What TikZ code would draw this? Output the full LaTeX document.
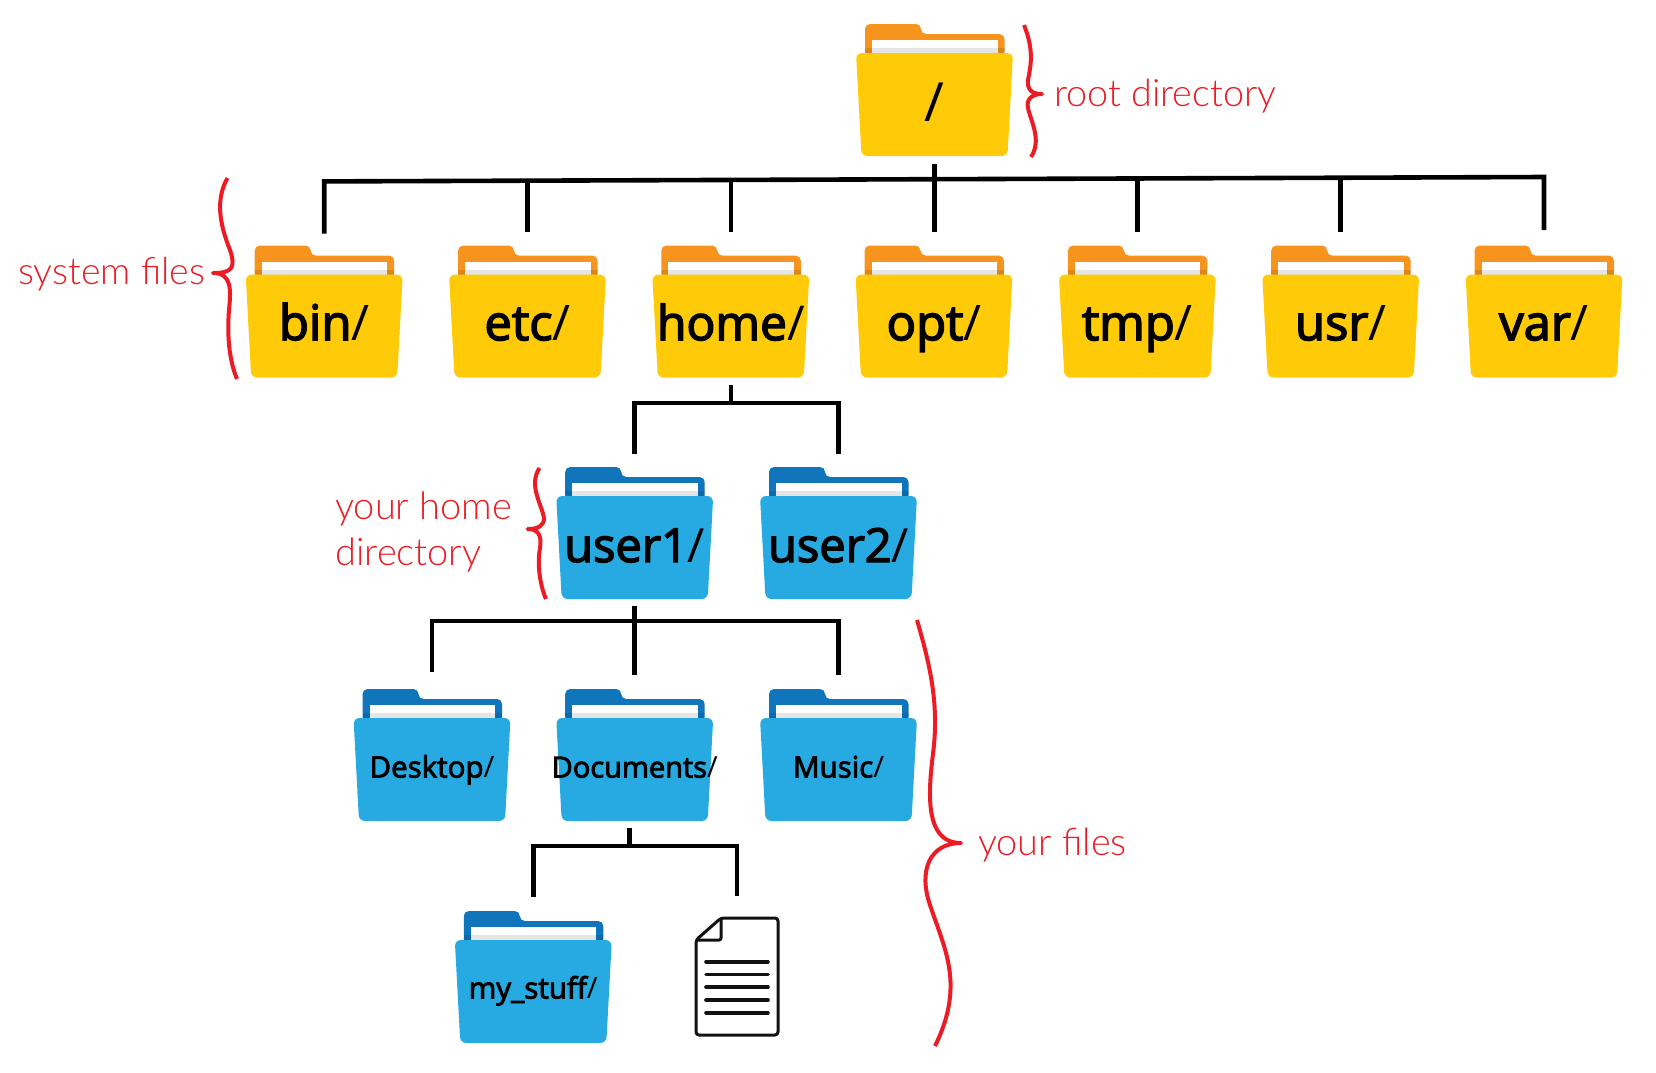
\documentclass[tikz,border=0pt]{standalone}
\usepackage{fontspec}
\newfontfamily\lblfont[FakeBold=3]{Open Sans}
\newfontfamily\slashfont{Open Sans}
\IfFontExistsTF{Lato Light}{\newfontfamily\redfont{Lato Light}}{\newfontfamily\redfont{Open Sans}}
\definecolor{yfront}{HTML}{FFCB08}
\definecolor{yback}{HTML}{F7941D}
\definecolor{bfront}{HTML}{27AAE1}
\definecolor{bback}{HTML}{1175BC}
\definecolor{bracered}{HTML}{ED1C24}
\definecolor{docink}{HTML}{111111}
\tikzset{
  conn/.style={draw=black,line width=4.6pt,line join=miter,line cap=butt},
  bracecurve/.style={draw=bracered,line width=4pt,line cap=butt,line join=round},
  redtext/.style={text=bracered,inner sep=0pt,anchor=base west,align=left},
  biglabel/.style={inner sep=0pt,anchor=base,text=black},
  doclines/.style={draw=docink,line width=3.6pt,line cap=round},
}
% name, cx, top, back, front, size, letters, shift of the baseline
\newcommand{\folderpic}[8]{%
  \fill[#4,rounded corners=5pt] (#2-69.5,#3+4) -- (#2-69.5,#3-29) -- (#2-13.5,#3-29) -- (#2-13.5,#3-19) -- (#2+70,#3-19) -- (#2+70,#3+4) -- cycle;
  \fill[white] (#2-62.5,#3-13) rectangle (#2+63,#3+1);
  \fill[black,opacity=.1] (#2-69.5,#3-5) rectangle (#2+70,#3+1);
  \fill[#5,rounded corners=6pt] (#2-78.5,#3) -- (#2+78.5,#3) -- (#2+73,#3+103) -- (#2-73,#3+103) -- cycle;
  \node[biglabel,font=\fontsize{#6}{#6}\selectfont] (#1) at (#2,#3+#8) {{\lblfont #7}{\slashfont /}};
}
\begin{document}
\begin{tikzpicture}[x=1pt,y=-1pt]
\useasboundingbox (0,0) rectangle (1656,1072);
% folders
\folderpic{root}{934.5}{53}{yback}{yfront}{54}{}{68}
\folderpic{bin}{324.2}{274.6}{yback}{yfront}{49}{bin}{65.5}
\folderpic{etc}{527.5}{274.6}{yback}{yfront}{49}{etc}{65.5}
\folderpic{home}{730.8}{274.6}{yback}{yfront}{48}{home}{65.5}
\folderpic{opt}{934}{274.6}{yback}{yfront}{49}{opt}{65.5}
\folderpic{tmp}{1137.4}{274.6}{yback}{yfront}{49}{tmp}{65.5}
\folderpic{usr}{1340.7}{274.6}{yback}{yfront}{49}{usr}{65.5}
\folderpic{var}{1544}{274.6}{yback}{yfront}{49}{var}{65.5}
\folderpic{user1}{634.7}{496}{bback}{bfront}{47}{user1}{66}
\folderpic{user2}{838.5}{496}{bback}{bfront}{47}{user2}{66}
\folderpic{desktop}{432}{718}{bback}{bfront}{29.5}{Desktop}{59.5}
\folderpic{documents}{634.7}{718}{bback}{bfront}{29}{Documents}{59.5}
\folderpic{music}{838.5}{718}{bback}{bfront}{29.5}{Music}{59.5}
\folderpic{mystuff}{533.3}{940}{bback}{bfront}{29.5}{my\_stuff}{58.5}
% document icon
\draw[draw=docink,line width=3pt,line join=round,rounded corners=3pt] (721,918) -- (778,918) -- (778,1035) -- (696,1035) -- (696,940) -- cycle;
\draw[draw=docink,line width=3pt,line join=round,rounded corners=2pt] (721,918) -- (721,940) -- (696,940);
\coordinate (docfile) at (737,896);
\foreach \ly in {961.7,974.3,987,1000,1012.7} \draw[doclines] (706,\ly) -- (768,\ly);
% connectors: root level
\coordinate (rootS) at (934.6,164);
\coordinate (rootJ) at (934.6,179);
\coordinate (binB) at (324.2,181.4);
\coordinate (binD) at (324.2,233.5);
\coordinate (etcB) at (527.5,180.7);
\coordinate (etcD) at (527.5,232);
\coordinate (homeB) at (730.8,180);
\coordinate (homeD) at (730.8,232);
\coordinate (optD) at (934.6,232);
\coordinate (tmpB) at (1137.4,178.3);
\coordinate (tmpD) at (1137.4,232);
\coordinate (usrB) at (1340.7,177.7);
\coordinate (usrD) at (1340.7,232);
\coordinate (varB) at (1544,177);
\coordinate (varD) at (1544,230);
\draw[conn] (binD) -- (binB) -- (varB) -- (varD);
\draw[conn] (rootS) -- (optD);
\draw[conn] (etcB) -- (etcD);
\draw[conn] (homeB) -- (homeD);
\draw[conn] (tmpB) -- (tmpD);
\draw[conn] (usrB) -- (usrD);
% home
\coordinate (homeS) at (730.8,385);
\coordinate (homeJ) at (730.8,403);
\coordinate (u1B) at (634.7,403);
\coordinate (u1D) at (634.7,454);
\coordinate (u2B) at (838.5,403);
\coordinate (u2D) at (838.5,454);
\draw[conn] (homeS) -- (homeJ);
\draw[conn] (u1D) -- (u1B) -- (u2B) -- (u2D);
% user1
\coordinate (userS) at (634.7,606);
\coordinate (docD) at (634.7,675);
\coordinate (deskB) at (432,621);
\coordinate (deskD) at (432,672);
\coordinate (musB) at (838.5,621);
\coordinate (musD) at (838.5,675);
\draw[conn] (userS) -- (docD);
\draw[conn] (deskD) -- (deskB) -- (musB) -- (musD);
% documents
\coordinate (docS) at (629.4,828);
\coordinate (docJ) at (629.4,846);
\coordinate (stufB) at (533.3,846);
\coordinate (stufD) at (533.3,897);
\coordinate (fileB) at (737,846);
\draw[conn] (docS) -- (docJ);
\draw[conn] (stufD) -- (stufB) -- (fileB) -- (docfile);
% braces
\draw[bracecurve] (1024,25) .. controls (1034,50) and (1031,65) .. (1028,80) .. controls (1027,90) and (1032,94) .. (1042,94) .. controls (1032,94) and (1026,99) .. (1028,108) .. controls (1031,122) and (1042,140) .. (1031,157);
\draw[bracecurve] (227.5,178) .. controls (215,200) and (220,225) .. (230,250) .. controls (236,268) and (232,273) .. (213,273) .. controls (232,273) and (231,290) .. (229,310) .. controls (227,335) and (229,360) .. (237,379);
\draw[bracecurve] (539.5,468) .. controls (528,485) and (542,505) .. (544,518) .. controls (544,526) and (538,529) .. (527.6,529) .. controls (538,529) and (542,535) .. (540,548) .. controls (537,565) and (540,585) .. (546,599);
\draw[bracecurve] (917,620) .. controls (930,665) and (938,700) .. (934,745) .. controls (930,780) and (920,843) .. (961,843) .. controls (930,843) and (918,870) .. (930,905) .. controls (945,950) and (965,985) .. (935,1046);
% red labels
\node[redtext,font=\redfont\fontsize{37.7}{44}\selectfont] (rootlbl) at (1054,106) {root directory};
\node[redtext,font=\redfont\fontsize{37.5}{44}\selectfont] (syslbl) at (18,284) {system files};
\node[redtext,font=\redfont\fontsize{38}{44}\selectfont] (homelbl) at (335,519) {your home};
\node[redtext,font=\redfont\fontsize{38}{44}\selectfont] (homelblb) at (335,565) {directory};
\node[redtext,font=\redfont\fontsize{37.8}{44}\selectfont] (fileslbl) at (978,855) {your files};
\end{tikzpicture}
\end{document}
